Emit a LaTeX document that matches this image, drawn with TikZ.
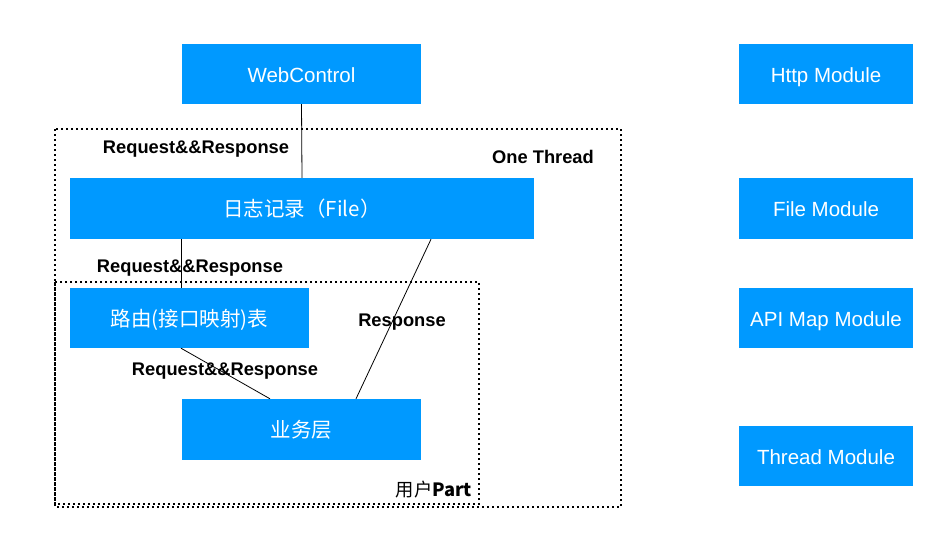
\documentclass[tikz,border=0pt]{standalone}
\usepackage{fontspec}
\setmainfont{Liberation Sans}
\newfontfamily\cjk{Noto Sans CJK SC}
\usepackage{tikz}
\definecolor{modblue}{RGB}{0, 153, 255}

\begin{document}
\begin{tikzpicture}[x=1pt, y=-1pt,
    modbox/.style={fill=modblue, text=white, inner sep=0pt, minimum height=60pt,
        text height=16.6pt, text depth=0pt, font=\fontsize{20.5}{24}\selectfont},
    linklabel/.style={font=\fontsize{18.3}{21}\selectfont\bfseries},
    zone/.style={dash pattern=on 2pt off 3pt, line width=1.6pt}]

\useasboundingbox (0,0) rectangle (941,544);

% Zonas (hilo y parte de usuario)
\draw[zone] (55,129) rectangle (621,507);
\draw[zone] (55,282) rectangle (479,504);

% Módulos principales
\node[modbox, minimum width=239pt] (web) at (301.5,74) {WebControl};
\node[modbox, minimum width=464pt, minimum height=61pt] (log) at (302,208.5) {\cjk{日志记录（}File\cjk{）}};
\node[modbox, minimum width=239pt] (route) at (189.5,318) {\cjk{路由(接口映射)表}};
\node[modbox, minimum width=239pt, minimum height=61pt] (biz) at (301.5,429.5) {\cjk{业务层}};

% Lista de módulos
\node[modbox, minimum width=174pt] (http) at (826,74) {Http Module};
\node[modbox, minimum width=174pt, minimum height=61pt] (filemod) at (826,208.5) {File Module};
\node[modbox, minimum width=174pt] (apimod) at (826,318) {API Map Module};
\node[modbox, minimum width=174pt] (threadmod) at (826,456) {Thread Module};

% Conexiones
\draw[line width=0.8pt] (web.south) -- (log.north);
\draw[line width=0.8pt] ([xshift=-8.5pt]route.north |- log.south) -- ([xshift=-8.5pt]route.north);
\draw[line width=0.8pt] ([xshift=-8.5pt]route.south) -- ([xshift=-31.5pt]biz.north);
\draw[line width=0.8pt] ([xshift=129pt]log.south) -- ([xshift=54.5pt]biz.north);

% Etiquetas
\node[linklabel] (lbreq1) at (196,149) {Request\&\&Response};
\node[linklabel] (lbthread) at (543,157) {One Thread};
\node[linklabel] (lbreq2) at (190,268) {Request\&\&Response};
\node[linklabel] (lbresp) at (402,322) {Response};
\node[linklabel] (lbreq3) at (225,371) {Request\&\&Response};
\node[font=\fontsize{18.3}{21}\selectfont] (lbuser) at (434,490) {\cjk{用户}\textbf{Part}};

\end{tikzpicture}
\end{document}
